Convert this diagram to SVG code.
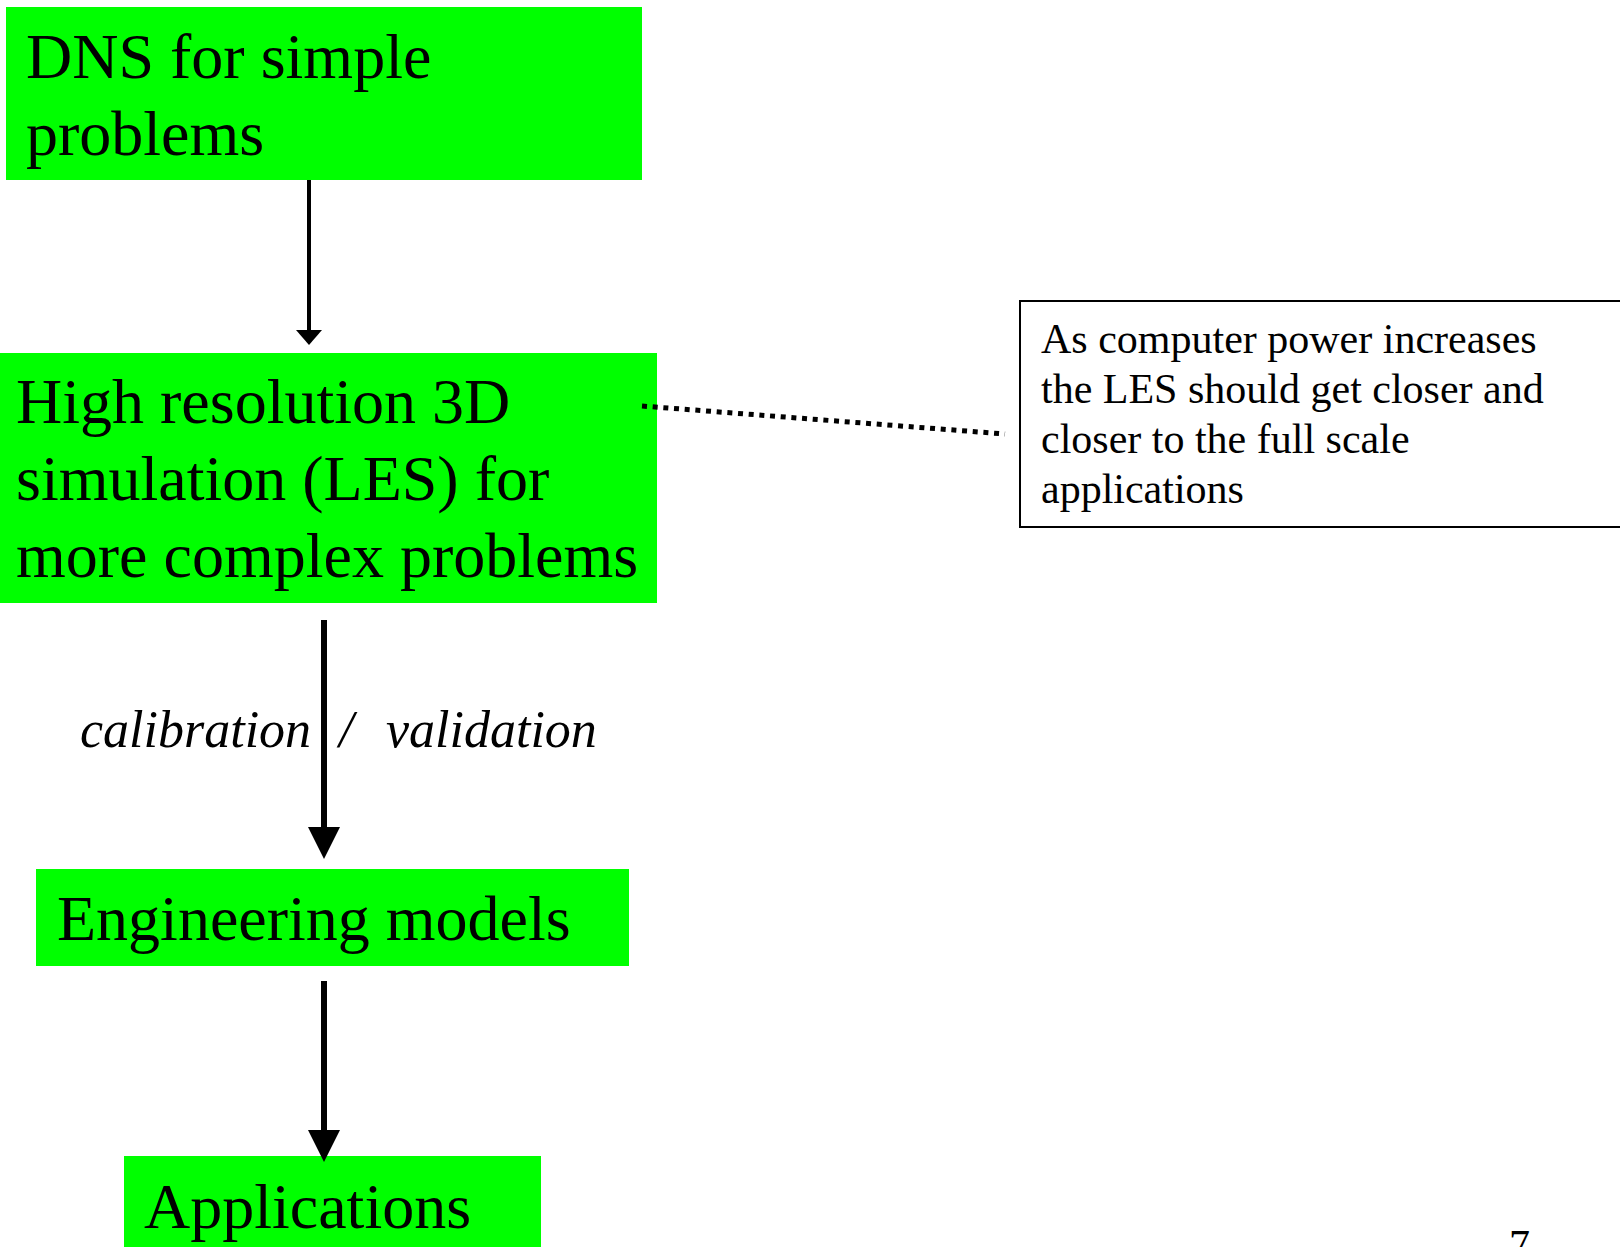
<svg xmlns="http://www.w3.org/2000/svg" width="1620" height="1247" viewBox="0 0 1620 1247">
<style>
.box{fill:#00ff00;}
.big{font-family:"Liberation Serif","Times New Roman",serif;font-size:64px;fill:#000;}
.small{font-family:"Liberation Serif","Times New Roman",serif;font-size:42px;fill:#000;}
.lbl{font-family:"Liberation Serif","Times New Roman",serif;font-size:52px;font-style:italic;fill:#000;}
.conn{stroke:#000;fill:none;}
</style>
<defs>
<marker id="headS" markerUnits="userSpaceOnUse" viewBox="0 -13 15 26" markerWidth="15" markerHeight="26" refX="0" refY="0" orient="auto">
<path d="M0,-13 L15,0 L0,13 Z" fill="#000"/>
</marker>
<marker id="headL" markerUnits="userSpaceOnUse" viewBox="0 -16 32 32" markerWidth="32" markerHeight="32" refX="0" refY="0" orient="auto">
<path d="M0,-16 L32,0 L0,16 Z" fill="#000"/>
</marker>
</defs>
<rect width="1620" height="1247" fill="#fff"/>
<g id="dns">
<rect class="box" x="6" y="7" width="636" height="173"/>
<text class="big" x="26" y="78">DNS for simple</text>
<text class="big" x="26" y="155">problems</text>
</g>
<g id="les">
<rect class="box" x="0" y="353" width="657" height="250"/>
<text class="big" x="16" y="423">High resolution 3D</text>
<text class="big" x="16" y="500">simulation (LES) for</text>
<text class="big" x="16" y="577">more complex problems</text>
</g>
<g id="note">
<rect x="1020" y="301" width="620" height="226" fill="#fff" stroke="#000" stroke-width="2"/>
<text class="small" x="1041" y="353">As computer power increases</text>
<text class="small" x="1041" y="403">the LES should get closer and</text>
<text class="small" x="1041" y="453">closer to the full scale</text>
<text class="small" x="1041" y="503">applications</text>
</g>
<g id="eng">
<rect class="box" x="36" y="869" width="593" height="97"/>
<text class="big" x="57" y="940">Engineering models</text>
</g>
<g id="apps">
<rect class="box" x="124" y="1156" width="417" height="95"/>
<text class="big" x="144" y="1228">Applications</text>
</g>
<g id="connectors">
<line class="conn" x1="309" y1="180" x2="309" y2="330" stroke-width="4" marker-end="url(#headS)"/>
<line class="conn" x1="324" y1="620" x2="324" y2="827" stroke-width="6" marker-end="url(#headL)"/>
<line class="conn" x1="324" y1="981" x2="324" y2="1130" stroke-width="6" marker-end="url(#headL)"/>
<line class="conn" x1="642" y1="406" x2="1005" y2="434" stroke-width="5" stroke-dasharray="5 5.7"/>
</g>
<g id="edge-label">
<text class="lbl" y="747"><tspan x="80">calibration</tspan><tspan x="339">/</tspan><tspan x="386">validation</tspan></text>
</g>
<text class="small" x="1509" y="1259">7</text>
</svg>
